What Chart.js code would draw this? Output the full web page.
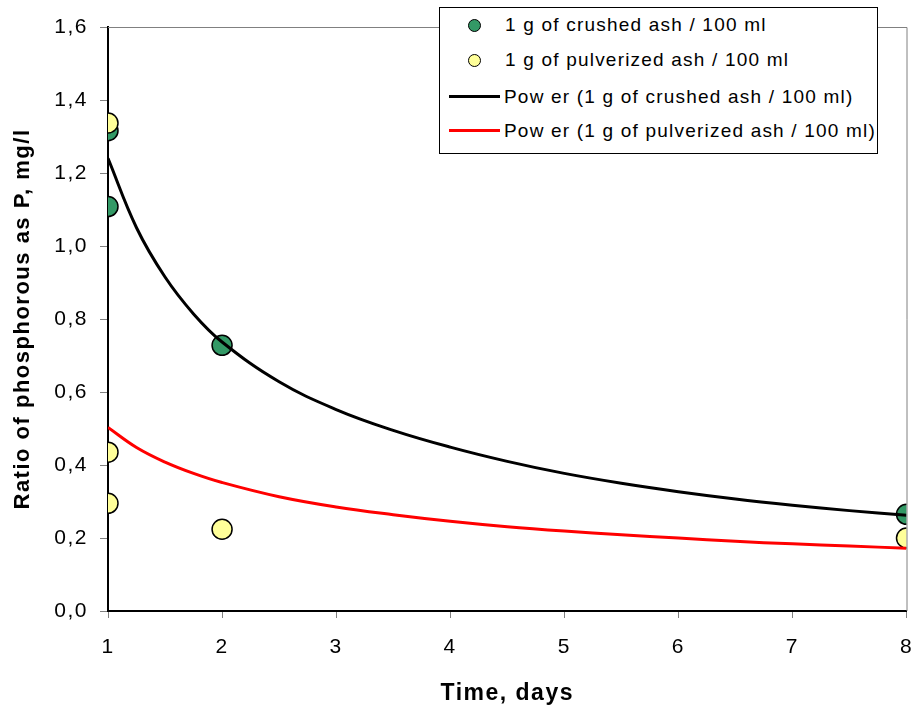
<!DOCTYPE html>
<html>
<head>
<meta charset="utf-8">
<script src="https://cdn.jsdelivr.net/npm/chart.js@4"></script>
<style>
    html, body { margin:0; padding:0; background:#fff; }
    #wrap { position:relative; width:918px; height:711px; }
    #legend {
        position:absolute; left:439px; top:7px; width:439px; height:147px;
        background:#fff; border:1px solid #000; box-sizing:border-box;
        font-family:"Liberation Sans", Arial, sans-serif; font-size:19px; color:#000;
    }
    .row { position:absolute; left:0; height:24px; line-height:24px; white-space:nowrap; letter-spacing:1.2px; }
    .dot { position:absolute; top:6px; width:11px; height:11px; border:1px solid #000; border-radius:50%; }
    .ln  { position:absolute; top:10px; left:9px; width:51px; height:3px; }
</style>
</head>
<body>
<div id="wrap">
    <canvas id="c" width="918" height="711"></canvas>
    <div id="legend"></div>
</div>
<script>
/* ---- data ---- */
var DAYS_CRUSHED       = [1, 1, 2, 8];
var P_CRUSHED          = [1.316, 1.108, 0.728, 0.265];
var DAYS_PULVERIZED    = [1, 1, 1, 2, 8];
var P_PULVERIZED       = [1.337, 0.435, 0.295, 0.224, 0.20];

// power trend lines, sampled off the drawn curves
var TREND_DAYS         = [1, 1.25, 1.5, 1.75, 2, 2.5, 3, 3.5, 4, 4.5, 5, 5.5, 6, 6.5, 7, 7.5, 8];
var TREND_CRUSHED      = [1.24, 1.05, 0.915, 0.814, 0.737, 0.628, 0.552, 0.495, 0.449, 0.410, 0.377, 0.350, 0.327, 0.307, 0.290, 0.275, 0.262];
var TREND_PULVERIZED   = [0.503, 0.448, 0.408, 0.377, 0.352, 0.313, 0.285, 0.264, 0.246, 0.231, 0.219, 0.209, 0.200, 0.191, 0.184, 0.178, 0.172];

var Y_TICKS = [0, 0.2, 0.4, 0.6, 0.8, 1.0, 1.2, 1.4, 1.6];
var X_TICKS = [1, 2, 3, 4, 5, 6, 7, 8];

var LABELS = [
    '1 g of crushed ash / 100 ml',
    '1 g of pulverized ash / 100 ml',
    'Pow er (1 g of crushed ash / 100 ml)',
    'Pow er (1 g of pulverized ash / 100 ml)'
];

var GREEN  = '#339966';
var YELLOW = '#FFFF99';

function pts(xs, ys) {
    return xs.map(function(x, i) { return { x: x, y: ys[i] }; });
}

/* ---- html legend ---- */
(function() {
    var tops = [5, 40, 77, 111];
    var html = '';
    html += '<div class="row" style="top:' + tops[0] + 'px;"><span class="dot" style="left:28px;background:' + GREEN + ';"></span><span style="position:absolute;left:65px;">' + LABELS[0] + '</span></div>';
    html += '<div class="row" style="top:' + tops[1] + 'px;"><span class="dot" style="left:28px;background:' + YELLOW + ';"></span><span style="position:absolute;left:65px;">' + LABELS[1] + '</span></div>';
    html += '<div class="row" style="top:' + tops[2] + 'px;"><span class="ln" style="background:#000;"></span><span style="position:absolute;left:64px;">' + LABELS[2] + '</span></div>';
    html += '<div class="row" style="top:' + tops[3] + 'px;"><span class="ln" style="background:#FF0000;"></span><span style="position:absolute;left:64px;">' + LABELS[3] + '</span></div>';
    document.getElementById('legend').innerHTML = html;
})();

/* gray top and right frame of the plot area, plus wider text spacing */
var frame = {
    id: 'frame',
    beforeLayout: function(chart) { chart.ctx.letterSpacing = '1.5px'; },
    beforeDraw:   function(chart) { chart.ctx.letterSpacing = '1.5px'; },
    afterDraw: function(chart) {
        var a = chart.chartArea, c = chart.ctx;
        c.save();
        c.strokeStyle = '#808080';
        c.lineWidth = 1;
        c.beginPath();
        c.moveTo(a.left, a.top + 0.5);
        c.lineTo(a.right + 0.5, a.top + 0.5);
        c.lineTo(a.right + 0.5, a.bottom);
        c.stroke();
        c.restore();
    }
};

var FONT = "'Liberation Sans', Arial, sans-serif";

new Chart(document.getElementById('c'), {
    type: 'scatter',
    data: {
        datasets: [
            {
                label: LABELS[0], data: pts(DAYS_CRUSHED, P_CRUSHED), order: 2,
                backgroundColor: GREEN, borderColor: '#000', borderWidth: 1.5, pointRadius: 10
            },
            {
                label: LABELS[1], data: pts(DAYS_PULVERIZED, P_PULVERIZED), order: 1,
                backgroundColor: YELLOW, borderColor: '#000', borderWidth: 1.5, pointRadius: 10
            },
            {
                label: LABELS[2], data: pts(TREND_DAYS, TREND_CRUSHED), order: 0,
                showLine: true, borderColor: '#000', borderWidth: 3, pointRadius: 0, tension: 0.4
            },
            {
                label: LABELS[3], data: pts(TREND_DAYS, TREND_PULVERIZED), order: 0,
                showLine: true, borderColor: '#FF0000', borderWidth: 3, pointRadius: 0, tension: 0.4
            }
        ]
    },
    options: {
        responsive: false, animation: false,
        layout: { padding: { top: 27, right: 10, left: 0, bottom: 0 } },
        plugins: { legend: { display: false }, tooltip: { enabled: false } },
        scales: {
            x: {
                type: 'linear', min: 1, max: 8,
                afterFit: function(s) { s.height = 100; s.paddingLeft = 0; s.paddingRight = 0; },
                afterBuildTicks: function(s) { s.ticks = X_TICKS.map(function(v) { return { value: v }; }); },
                border: { color: '#000', width: 2 },
                grid: { drawOnChartArea: false, color: '#808080', tickLength: 7, tickWidth: 1 },
                ticks: { color: '#000', padding: 17, font: { family: FONT, size: 21 } },
                title: { display: true, text: 'Time, days', color: '#000', padding: { top: 10 },
                         font: { family: FONT, size: 23, weight: 'bold' } }
            },
            y: {
                min: 0, max: 1.6,
                afterFit: function(s) { s.width = 108; s.paddingTop = 0; s.paddingBottom = 0; },
                afterBuildTicks: function(s) { s.ticks = Y_TICKS.map(function(v) { return { value: v }; }); },
                border: { color: '#000', width: 2 },
                grid: { drawOnChartArea: false, color: '#808080', tickLength: 8, tickWidth: 1 },
                ticks: {
                    color: '#000', padding: 12, font: { family: FONT, size: 21 },
                    callback: function(v) { return v.toFixed(1).replace('.', ','); }
                },
                title: { display: true, text: 'Ratio of phosphorous as P, mg/l', color: '#000', padding: { top: 10, bottom: 4 },
                         font: { family: FONT, size: 22, weight: 'bold' } }
            }
        }
    },
    plugins: [frame]
});
</script>
</body>
</html>
